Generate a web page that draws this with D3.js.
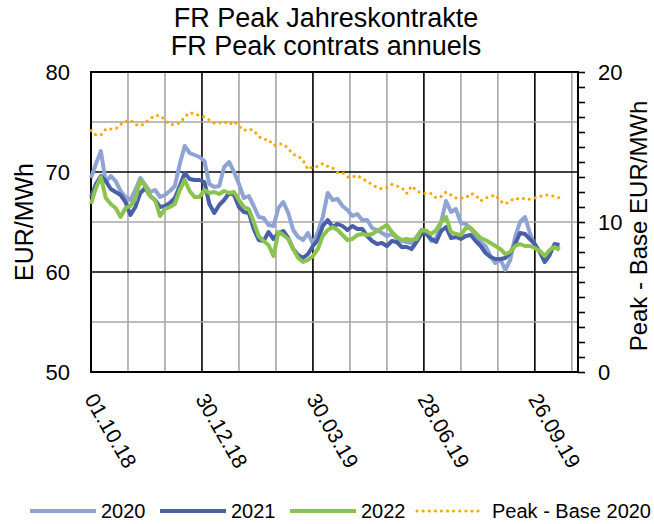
<!DOCTYPE html>
<html>
<head>
<meta charset="utf-8">
<script src="https://cdn.jsdelivr.net/npm/d3@7"></script>
<style>
    body { margin: 0; background: #fff; }
    text { font-family: "Liberation Sans", Arial, sans-serif; fill: #000; }
</style>
</head>
<body>
<script>
var width = 654;
var height = 524;
var margin = {top: 72, right: 76, bottom: 152, left: 91};

var titleLines = ["FR Peak Jahreskontrakte", "FR Peak contrats annuels"];
var seriesNames = ["2020", "2021", "2022", "Peak - Base 2020"];

// sample dates, every 4 days
var dates = [
    "2018-10-01","2018-10-05","2018-10-09","2018-10-13","2018-10-17","2018-10-21","2018-10-25","2018-10-29",
    "2018-11-02","2018-11-06","2018-11-10","2018-11-14","2018-11-18","2018-11-22","2018-11-26","2018-11-30",
    "2018-12-04","2018-12-08","2018-12-12","2018-12-16","2018-12-20","2018-12-24","2018-12-28",
    "2019-01-01","2019-01-05","2019-01-09","2019-01-13","2019-01-17","2019-01-21","2019-01-25","2019-01-29",
    "2019-02-02","2019-02-06","2019-02-10","2019-02-14","2019-02-18","2019-02-22","2019-02-26",
    "2019-03-02","2019-03-06","2019-03-10","2019-03-14","2019-03-18","2019-03-22","2019-03-26","2019-03-30",
    "2019-04-03","2019-04-07","2019-04-11","2019-04-15","2019-04-19","2019-04-23","2019-04-27",
    "2019-05-01","2019-05-05","2019-05-09","2019-05-13","2019-05-17","2019-05-21","2019-05-25","2019-05-29",
    "2019-06-02","2019-06-06","2019-06-10","2019-06-14","2019-06-18","2019-06-22","2019-06-26","2019-06-30",
    "2019-07-04","2019-07-08","2019-07-12","2019-07-16","2019-07-20","2019-07-24","2019-07-28",
    "2019-08-01","2019-08-05","2019-08-09","2019-08-13","2019-08-17","2019-08-21","2019-08-25","2019-08-29",
    "2019-09-02","2019-09-06","2019-09-10","2019-09-14","2019-09-18","2019-09-22","2019-09-26","2019-09-30",
    "2019-10-04","2019-10-08","2019-10-12","2019-10-16"
];

// EUR/MWh, left axis
var cal2020 = [
    69.4, 70.8, 72.1, 69.0, 69.6, 69.1, 68.1, 67.5,
    67.2, 68.2, 69.4, 68.7, 68.0, 68.2, 67.5, 67.7,
    68.1, 68.6, 70.8, 72.6, 71.9, 71.7, 71.5,
    71.1, 68.8, 68.5, 68.6, 70.5, 71.0, 70.0, 68.8,
    67.4, 67.6, 66.6, 65.5, 65.4, 64.7, 64.6,
    66.4, 67.0, 65.9, 64.2, 63.5, 63.2, 63.9, 62.8,
    64.0, 65.5, 67.9, 67.2, 67.3, 66.6, 66.2,
    65.6, 65.8, 65.2, 65.2, 64.4, 64.2, 63.9, 63.6,
    63.8, 63.4, 63.1, 63.0, 62.9, 63.5, 64.2, 64.0,
    63.1, 63.4, 65.0, 67.1, 66.0, 66.3, 64.9,
    64.8, 64.3, 63.7, 63.0, 62.6, 61.6, 60.9, 61.3,
    60.2, 61.2, 63.5, 65.0, 65.5, 63.9, 62.6, 62.0,
    61.4, 62.1, 62.6, 62.3
];
var cal2021 = [
    67.5, 68.8, 69.6, 69.1, 68.3, 68.0, 67.7, 67.0,
    65.7, 66.5, 67.9, 68.4, 67.6, 67.2, 66.5, 66.6,
    66.9, 67.4, 68.6, 69.9, 69.3, 69.2, 69.2,
    69.0, 66.8, 65.9, 66.7, 67.2, 67.9, 67.7, 66.5,
    66.0, 65.9, 64.3, 63.2, 63.1, 64.0, 63.3,
    63.9, 64.1, 63.4, 62.3, 61.7, 61.4, 61.8, 62.6,
    63.2, 64.6, 65.2, 64.5, 64.8, 64.6, 64.2,
    64.6, 64.3, 64.3, 63.6, 63.1, 62.8, 62.9, 62.6,
    63.1, 63.0, 62.5, 62.5, 62.3, 63.0, 63.8, 63.8,
    63.3, 63.0, 64.1, 64.5, 63.4, 63.5, 63.3,
    63.6, 63.7, 63.1, 62.6, 61.9, 61.5, 61.3, 61.3,
    61.4, 61.9, 62.8, 63.9, 63.8, 63.3, 62.8, 62.0,
    61.0, 61.7, 62.8, 62.7
];
var cal2022 = [
    66.8, 68.4, 69.5, 67.4, 66.8, 66.4, 65.5, 66.4,
    66.6, 67.3, 69.2, 68.6, 67.6, 67.2, 65.6, 66.3,
    66.5, 66.8, 68.2, 69.2, 68.1, 67.5, 67.5,
    68.2, 67.9, 68.0, 67.8, 68.1, 67.9, 68.0, 67.2,
    66.5, 66.3, 65.0, 63.6, 63.1, 62.7, 61.6,
    64.0, 63.7, 63.3, 62.3, 61.4, 61.0, 61.2, 61.6,
    62.3, 63.6, 64.2, 64.5, 64.2, 63.7, 63.2,
    63.3, 63.7, 63.8, 63.7, 63.8, 64.1, 64.4, 64.7,
    64.0, 63.5, 63.2, 63.3, 63.2, 63.3, 64.2, 64.1,
    63.8, 64.2, 65.0, 65.5, 64.0, 63.8, 63.7,
    64.4, 64.4, 63.9, 63.4, 63.2, 62.9, 62.6, 62.3,
    61.8, 62.0, 62.6, 62.8, 62.6, 62.6, 62.4, 62.1,
    61.6, 62.2, 62.5, 62.2
];
// Peak - Base spread 2020, right axis
var spread2020 = [
    16.1, 15.8, 15.8, 16.2, 16.2, 16.2, 16.5, 16.7,
    16.8, 16.5, 16.4, 16.6, 16.9, 17.1, 17.1, 16.8,
    16.5, 16.5, 16.6, 17.0, 17.3, 17.2, 17.1,
    17.0, 16.8, 16.6, 16.6, 16.7, 16.5, 16.7, 16.4,
    16.1, 16.2, 16.1, 15.7, 15.5, 15.5, 15.1,
    15.2, 15.2, 14.9, 14.5, 14.4, 14.1, 13.5, 13.7,
    13.7, 13.9, 13.7, 13.6, 13.3, 13.3, 13.0,
    13.0, 13.1, 12.9, 12.7, 12.5, 12.3, 12.2, 12.3,
    12.5, 12.4, 12.3, 11.9, 12.4, 12.1, 11.9, 11.9,
    11.9, 11.6, 11.7, 12.0, 11.8, 11.6, 11.6,
    11.6, 11.9, 11.8, 11.4, 11.6, 11.7, 11.8, 11.4,
    11.2, 11.4, 11.6, 11.5, 11.6, 11.5, 11.6, 11.7,
    11.8, 11.8, 11.7, 11.6
];

var xDomain = ["2018-10-01", "2019-10-31"];
var labelDates = ["2018-10-01", "2018-12-30", "2019-03-30", "2019-06-28", "2019-09-26"];
var gridStepDays = 30;
var leftTicks = [50, 55, 60, 65, 70, 75, 80];
var rightTicks = d3.range(0, 21, 1);

var colors = ["#8fa4d4", "#4960a9", "#8bc34f", "#ffa500"];

var parseDate = d3.timeParse("%Y-%m-%d");
var fmtDate = d3.timeFormat("%d.%m.%y");

var svg = d3.select("body").append("svg")
    .attr("width", width)
    .attr("height", height);

var x = d3.scaleTime()
    .domain(xDomain.map(parseDate))
    .range([margin.left, width - margin.right]);
var yLeft = d3.scaleLinear()
    .domain([50, 80])
    .range([height - margin.bottom, margin.top]);
var yRight = d3.scaleLinear()
    .domain([0, 20])
    .range([height - margin.bottom, margin.top]);

var x0 = margin.left, x1 = width - margin.right;
var y0 = height - margin.bottom, y1 = margin.top;

// title
svg.selectAll(".title")
    .data(titleLines)
    .enter().append("text")
    .attr("class", "title")
    .attr("x", 326)
    .attr("y", function (d, i) { return 27 + i * 28; })
    .attr("text-anchor", "middle")
    .style("font-size", "27px")
    .text(function (d) { return d; });

// vertical grid, every 30 days, black every 90
var start = parseDate(xDomain[0]);
var gridDays = d3.range(gridStepDays, 391, gridStepDays);
svg.selectAll(".vgrid")
    .data(gridDays)
    .enter().append("line")
    .attr("x1", function (d) { return x(d3.timeDay.offset(start, d)); })
    .attr("x2", function (d) { return x(d3.timeDay.offset(start, d)); })
    .attr("y1", y0)
    .attr("y2", y1)
    .attr("stroke", function (d) { return d % 90 === 0 ? "#000" : "#a6a6a6"; })
    .attr("stroke-width", 1.6);

// horizontal grid
svg.selectAll(".hgrid")
    .data(leftTicks.slice(1, -1))
    .enter().append("line")
    .attr("x1", x0)
    .attr("x2", x1)
    .attr("y1", function (d) { return yLeft(d); })
    .attr("y2", function (d) { return yLeft(d); })
    .attr("stroke", function (d) { return d % 10 === 0 ? "#000" : "#a6a6a6"; })
    .attr("stroke-width", 1.6);

// frame
svg.append("rect")
    .attr("x", x0)
    .attr("y", y1)
    .attr("width", x1 - x0)
    .attr("height", y0 - y1)
    .attr("fill", "none")
    .attr("stroke", "#000")
    .attr("stroke-width", 2);

// left axis labels
var leftAxis = svg.append("g")
    .attr("transform", "translate(" + x0 + ",0)")
    .call(d3.axisLeft(yLeft).tickValues([50, 60, 70, 80]).tickSize(0).tickPadding(21));
leftAxis.select(".domain").remove();
leftAxis.selectAll("text").style("font-size", "22px").style("font-family", null);

// right axis
var rightAxis = svg.append("g")
    .attr("transform", "translate(" + x1 + ",0)")
    .call(d3.axisRight(yRight).tickValues(rightTicks).tickSize(7).tickPadding(13)
        .tickFormat(function (d) { return d % 10 === 0 ? d : ""; }));
rightAxis.select(".domain").attr("stroke-width", 2).attr("d", "M0," + y0 + "V" + y1);
rightAxis.selectAll(".tick line").attr("stroke-width", 1.6);
rightAxis.selectAll("text").style("font-size", "22px").style("font-family", null);

// x labels, rotated
svg.selectAll(".xlabel")
    .data(labelDates)
    .enter().append("text")
    .attr("class", "xlabel")
    .attr("transform", function (d) {
        return "translate(" + (x(parseDate(d)) - 7) + "," + (y0 + 27) + ") rotate(60)";
    })
    .style("font-size", "21px")
    .text(function (d) { return fmtDate(parseDate(d)); });

// axis titles
svg.append("text")
    .attr("transform", "translate(33," + ((y0 + y1) / 2) + ") rotate(-90)")
    .attr("text-anchor", "middle")
    .style("font-size", "25px")
    .text("EUR/MWh");
svg.append("text")
    .attr("transform", "translate(647," + ((y0 + y1) / 2 + 4) + ") rotate(-90)")
    .attr("text-anchor", "middle")
    .style("font-size", "24px")
    .text("Peak - Base EUR/MWh");

// series
var parsed = dates.map(parseDate);
var lineLeft = d3.line()
    .x(function (d, i) { return x(parsed[i]); })
    .y(function (d) { return yLeft(d); });
var lineRight = d3.line()
    .x(function (d, i) { return x(parsed[i]); })
    .y(function (d) { return yRight(d); });

[cal2020, cal2021, cal2022].forEach(function (values, i) {
    svg.append("path")
        .attr("d", lineLeft(values))
        .attr("fill", "none")
        .attr("stroke", colors[i])
        .attr("stroke-width", 4)
        .attr("stroke-linejoin", "round");
});

svg.append("path")
    .attr("d", lineRight(spread2020))
    .attr("fill", "none")
    .attr("stroke", colors[3])
    .attr("stroke-width", 3)
    .attr("stroke-linecap", "round")
    .attr("stroke-dasharray", "0.1 6");

// legend
var legendX = [30, 160, 290, 417];
var legend = svg.selectAll(".legend")
    .data(seriesNames)
    .enter().append("g")
    .attr("transform", function (d, i) { return "translate(" + legendX[i] + ",511)"; });
legend.append("line")
    .attr("x1", 0)
    .attr("x2", 66)
    .attr("stroke", function (d, i) { return colors[i]; })
    .attr("stroke-width", function (d, i) { return i === 3 ? 3 : 4; })
    .attr("stroke-linecap", function (d, i) { return i === 3 ? "round" : "butt"; })
    .attr("stroke-dasharray", function (d, i) { return i === 3 ? "0.1 6" : null; });
legend.append("text")
    .attr("x", function (d, i) { return i === 3 ? 75 : 71; })
    .attr("y", 7)
    .style("font-size", "20px")
    .text(function (d) { return d; });
</script>
</body>
</html>
